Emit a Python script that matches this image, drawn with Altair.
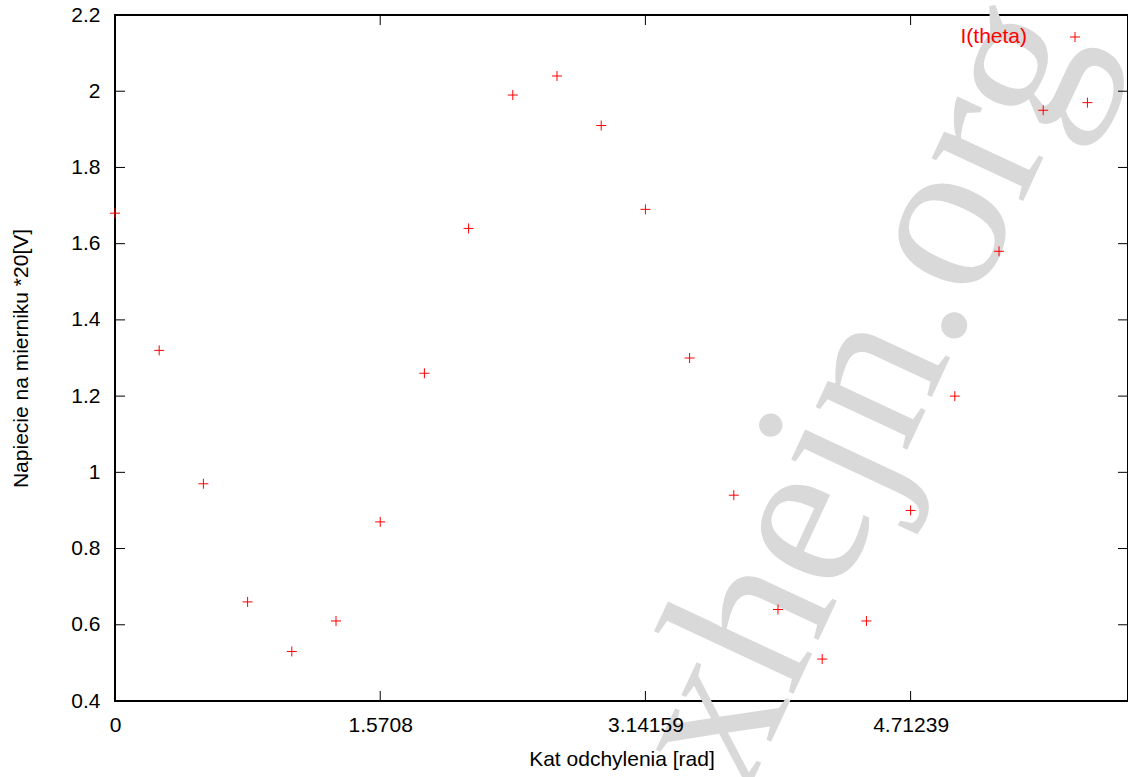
import altair as alt
import pandas as pd

# angle [rad] (15 degree steps) and measured voltage
theta = [0.0, 0.2618, 0.5236, 0.7854, 1.0472, 1.3090, 1.5708, 1.8326, 2.0944,
         2.3562, 2.6180, 2.8798, 3.1416, 3.4034, 3.6652, 3.9270, 4.1888, 4.4506,
         4.7124, 4.9742, 5.2360, 5.4978, 5.7596]
voltage = [1.68, 1.32, 0.97, 0.66, 0.53, 0.61, 0.87, 1.26, 1.64,
           1.99, 2.04, 1.91, 1.69, 1.30, 0.94, 0.64, 0.51, 0.61,
           0.90, 1.20, 1.58, 1.95, 1.97]

x_ticks = [0, 1.5708, 3.14159, 4.71239]
y_ticks = [0.4, 0.6, 0.8, 1.0, 1.2, 1.4, 1.6, 1.8, 2.0, 2.2]

series_name = "I(theta)"
x_title = "Kat odchylenia [rad]"
y_title = "Napiecie na mierniku *20[V]"
watermark = "xhejn.org"

W, H = 1013, 686
FONT = "Liberation Sans"
FS = 21
PLUS = "M-1,0L1,0M0,-1L0,1"

df = pd.DataFrame({"theta": theta, "v": voltage})
xt = pd.DataFrame({"t": x_ticks})
yt = pd.DataFrame({"t": y_ticks})

xs = alt.Scale(domain=[0, 6], nice=False, zero=False)
ys = alt.Scale(domain=[0.4, 2.2], nice=False, zero=False)

xaxis = alt.Axis(values=x_ticks, format=".6~g", ticks=False, domain=False, grid=False,
                 labelFont=FONT, labelFontSize=FS, labelColor="black", labelPadding=13,
                 labelFlush=False, title=x_title, titleFont=FONT, titleFontSize=FS,
                 titleFontWeight="normal", titleColor="black", titleX=W / 2, titleY=64,
                 titleAlign="center", titleBaseline="alphabetic", zindex=1)
yaxis = alt.Axis(values=y_ticks, format=".6~g", ticks=False, domain=False, grid=False,
                 labelFont=FONT, labelFontSize=FS, labelColor="black", labelPadding=15,
                 labelFlush=False, title=y_title, titleFont=FONT, titleFontSize=FS,
                 titleFontWeight="normal", titleColor="black", titleX=-88, titleY=H / 2,
                 titleAngle=270, titleAlign="center", titleBaseline="alphabetic", zindex=1)

wm = alt.Chart(pd.DataFrame({"s": [watermark]})).mark_text(
    font="Liberation Serif", fontSize=220, color="#d9d9d9", angle=295,
    align="center", baseline="alphabetic", clip=False
).encode(text="s:N", x=alt.value(806), y=alt.value(405))

points = alt.Chart(df).mark_point(
    shape=PLUS, size=100, filled=False, color="#ff0000", strokeWidth=1, opacity=1
).encode(
    x=alt.X("theta:Q", scale=xs, axis=xaxis),
    y=alt.Y("v:Q", scale=ys, axis=yaxis),
)

tl = 10
left_t = alt.Chart(yt).mark_rule(color="black", strokeWidth=1).encode(
    y=alt.Y("t:Q", scale=ys), x=alt.value(0), x2=alt.value(tl))
right_t = alt.Chart(yt).mark_rule(color="black", strokeWidth=1).encode(
    y=alt.Y("t:Q", scale=ys), x=alt.value(W - tl), x2=alt.value(W))
bot_t = alt.Chart(xt).mark_rule(color="black", strokeWidth=1).encode(
    x=alt.X("t:Q", scale=xs), y=alt.value(H - tl), y2=alt.value(H))
top_t = alt.Chart(xt).mark_rule(color="black", strokeWidth=1).encode(
    x=alt.X("t:Q", scale=xs), y=alt.value(0), y2=alt.value(tl))

leg = pd.DataFrame({"s": [series_name]})
leg_text = alt.Chart(leg).mark_text(
    font=FONT, fontSize=FS, color="#ff0000", align="right", baseline="middle"
).encode(text="s:N", x=alt.value(912), y=alt.value(22))
leg_sym = alt.Chart(leg).mark_point(
    shape=PLUS, size=100, filled=False, color="#ff0000", strokeWidth=1, opacity=1
).encode(x=alt.value(960), y=alt.value(22))

chart = alt.layer(wm, points, left_t, right_t, bot_t, top_t, leg_text, leg_sym).properties(
    width=W, height=H,
    autosize=alt.AutoSizeParams(type="none"),
    padding={"left": 115, "top": 15, "right": 0, "bottom": 76},
    background="white",
).configure_view(stroke="black", strokeWidth=2)

chart.save("out.html", embed_options={"renderer": "svg", "actions": False})
